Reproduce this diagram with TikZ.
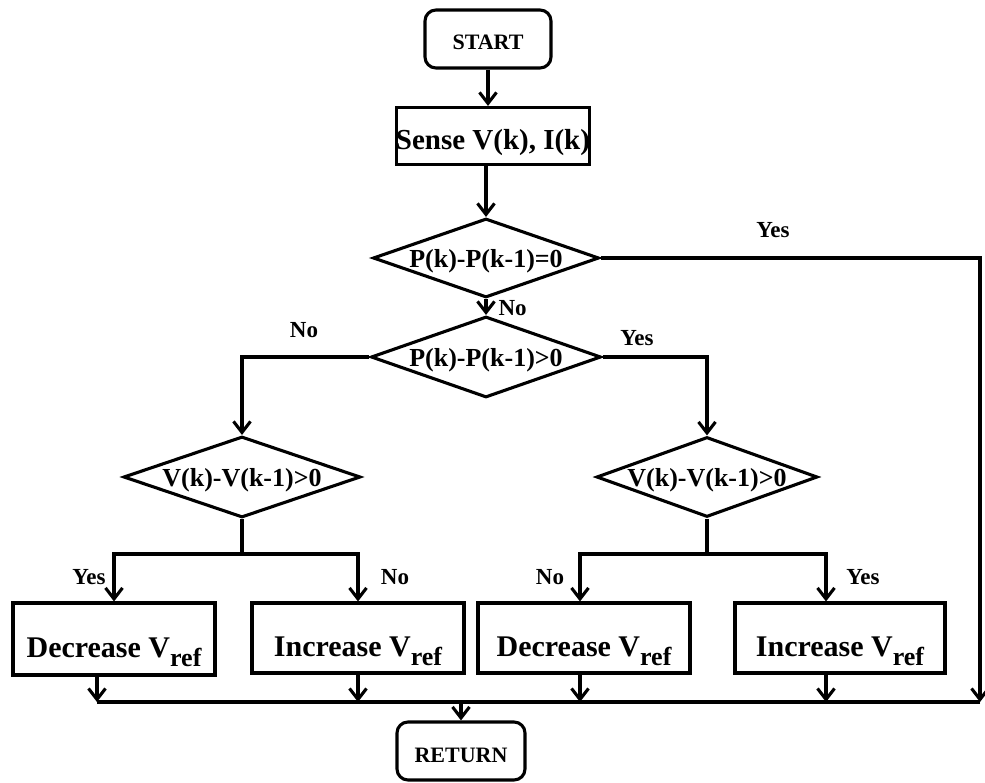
\documentclass[tikz,border=0pt]{standalone}
\usepackage{fontspec}
\setmainfont{Liberation Serif}
\usetikzlibrary{shapes.geometric,arrows.meta,calc}
\newcommand{\myvref}{V\raisebox{-0.3em}{\fontsize{26}{26}\selectfont ref}}
\newcommand{\mydtext}[1]{\makebox[0pt]{#1}}
\begin{document}
\begin{tikzpicture}[x=1pt,y=-1pt,
  line width=3.1pt,
  arr/.style={-{Straight Barb[length=11pt,width=17pt]}},
  term/.style={draw, rounded corners=11pt, inner sep=0pt, text height=22pt, text depth=0pt, font=\bfseries\fontsize{22}{24}\selectfont},
  procbox/.style={draw, inner sep=0pt, text height=36pt, text depth=0pt, font=\bfseries\fontsize{30}{32}\selectfont},
  sensebox/.style={draw, inner sep=0pt, text height=28pt, text depth=0pt, font=\bfseries\fontsize{29}{31}\selectfont},
  decide/.style={draw, diamond, inner sep=0pt, text height=19pt, text depth=0pt, font=\bfseries\fontsize{26}{28}\selectfont},
  lbl/.style={font=\bfseries\fontsize{23}{25}\selectfont, inner sep=0pt}
]
\useasboundingbox (0,0) rectangle (985,783);

% nodes
\node[term, minimum width=126pt, minimum height=58pt] (start) at (488,39) {START};
\node[sensebox, minimum width=193pt, minimum height=57pt] (sense) at (493,136) {\mydtext{Sense V(k), I(k)}};
\node[decide, minimum width=226pt, minimum height=79pt] (d1) at (486,258) {\mydtext{P(k)-P(k-1)=0}};
\node[decide, minimum width=230pt, minimum height=81pt] (d2) at (486,357) {\mydtext{P(k)-P(k-1)>0}};
\node[decide, minimum width=237pt, minimum height=81pt] (d3) at (242,477) {\mydtext{V(k)-V(k-1)>0}};
\node[decide, minimum width=221pt, minimum height=80pt] (d4) at (707,477) {\mydtext{V(k)-V(k-1)>0}};
\node[procbox, minimum width=202pt, minimum height=72pt] (b1) at (114,639) {Decrease \myvref};
\node[procbox, minimum width=212pt, minimum height=70pt] (b2) at (358,638) {Increase \myvref};
\node[procbox, minimum width=212pt, minimum height=70pt] (b3) at (584,638) {Decrease \myvref};
\node[procbox, minimum width=210pt, minimum height=70pt] (b4) at (840,638) {Increase \myvref};
\node[term, minimum width=128pt, minimum height=58pt] (ret) at (461,751) {RETURN};

% junction coordinates
\coordinate (jR) at (980,702);
\coordinate (jL) at (97,702);
\coordinate (jM) at (461,702);
\coordinate (s3) at (242,554);
\coordinate (s4) at (707,554);

% labels
\node[lbl] (lyes1) at (773,230) {Yes};
\node[lbl, anchor=west] (lno1) at (497,308) {No};
\node[lbl] (lno2) at (304,330) {No};
\node[lbl] (lyes2) at (637,338) {Yes};
\node[lbl] (lyes3) at (89,577) {Yes};
\node[lbl] (lno3) at (395,577) {No};
\node[lbl] (lno4) at (550,577) {No};
\node[lbl] (lyes4) at (863,577) {Yes};

% connectors
\draw[arr] (start.south) -- (start.south |- sense.north);
\draw[arr] (d1.north |- sense.south) -- (d1.north);
\draw[arr] (d1.east) -| (jR);
\draw (jR) -- (jL);
\draw[arr] (d1.south) -- (d2.north);
\draw[arr] (d2.west) -| (d3.north);
\draw[arr] (d2.east) -| (d4.north);
\draw (d3.south) -- (s3);
\draw[arr] (s3) -| (b1.north);
\draw[arr] (s3) -| (b2.north);
\draw (d4.south) -- (s4);
\draw[arr] (s4) -| ($(b3.north)+(-4,0)$);
\draw[arr] (s4) -| ($(b4.north)+(-14,0)$);
\draw[arr] (b1.south -| jL) -- (jL);
\draw[arr] (b2.south) -- (b2.south |- jL);
\draw[arr] ($(b3.south)+(-4,0)$) -- ($(b3.south |- jL)+(-4,0)$);
\draw[arr] ($(b4.south)+(-14,0)$) -- ($(b4.south |- jL)+(-14,0)$);
\draw[arr] (jM) -- (ret.north);
\end{tikzpicture}
\end{document}
